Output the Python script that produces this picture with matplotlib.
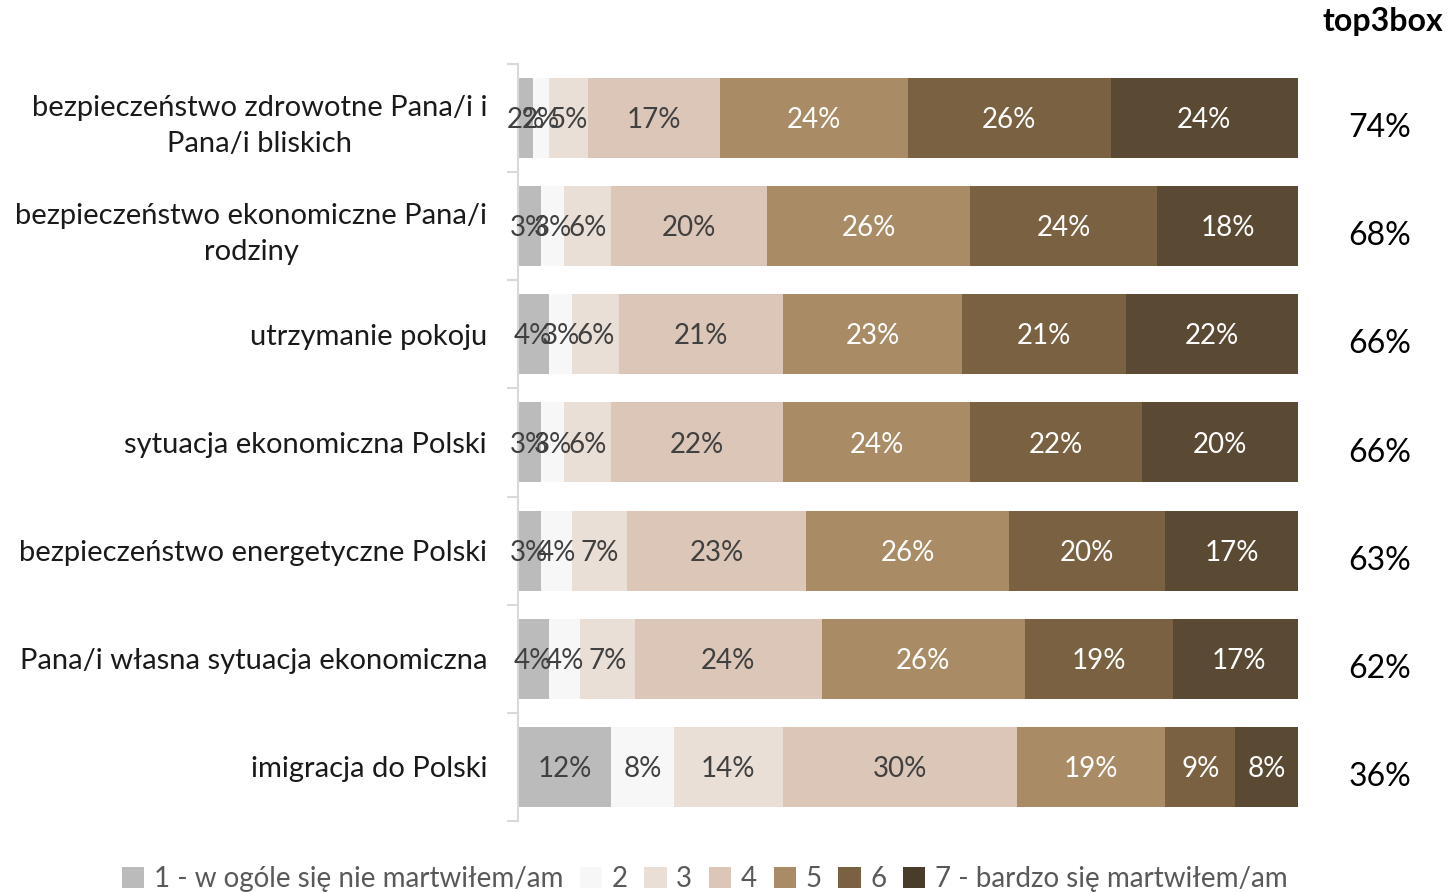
import matplotlib
matplotlib.use("Agg")
import matplotlib.pyplot as plt
from matplotlib.patches import Patch
import numpy as np

plt.rcParams['font.family'] = ['Lato', 'DejaVu Sans']

# dane
kategorie = ['bezpieczeństwo zdrowotne Pana/i i\nPana/i bliskich',
             'bezpieczeństwo ekonomiczne Pana/i\nrodziny',
             'utrzymanie pokoju',
             'sytuacja ekonomiczna Polski',
             'bezpieczeństwo energetyczne Polski',
             'Pana/i własna sytuacja ekonomiczna',
             'imigracja do Polski']
odp_1 = [2, 3, 4, 3, 3, 4, 12]
odp_2 = [2, 3, 3, 3, 4, 4, 8]
odp_3 = [5, 6, 6, 6, 7, 7, 14]
odp_4 = [17, 20, 21, 22, 23, 24, 30]
odp_5 = [24, 26, 23, 24, 26, 26, 19]
odp_6 = [26, 24, 21, 22, 20, 19, 9]
odp_7 = [24, 18, 22, 20, 17, 17, 8]
top3box = [74, 68, 66, 66, 63, 62, 36]
legenda = ['1 - w ogóle się nie martwiłem/am', '2', '3', '4', '5', '6',
           '7 - bardzo się martwiłem/am']

kolory = ['#BBBBBB', '#F7F7F7', '#EADFD7', '#DBC6B8', '#A98C66', '#7A6142', '#5A4A34']
kolory_leg = kolory[:6] + ['#4A3C2A']
kolor_tekstu = ['#404040'] * 4 + ['#FFFFFF'] * 3

serie = [odp_1, odp_2, odp_3, odp_4, odp_5, odp_6, odp_7]

fig = plt.figure(figsize=(14.5, 8.92), dpi=100)
ax = fig.add_axes([0.357, 0.0796, 0.538, 0.8487])

y = np.arange(len(kategorie))
lewo = np.zeros(len(kategorie))
for i, s in enumerate(serie):
    s = np.array(s, dtype=float)
    ax.barh(y, s, left=lewo, height=0.74, color=kolory[i], edgecolor='none')
    for j in range(len(kategorie)):
        ax.text(lewo[j] + s[j] / 2, y[j] + 0.02, f'{int(s[j])}%', ha='center', va='center',
                fontsize=20, color=kolor_tekstu[i])
    lewo += s

ax.set_xlim(0, 100)
ax.set_ylim(len(kategorie) - 0.5, -0.5)
ax.set_xticks([])
for sp in ['top', 'right', 'bottom']:
    ax.spines[sp].set_visible(False)
ax.spines['left'].set_color('#D9D9D9')
ax.spines['left'].set_linewidth(1.5)

ax.set_yticks(np.arange(-0.5, len(kategorie)), labels=[])
ax.tick_params(axis='y', which='major', length=8, color='#D9D9D9', width=1.5)
ax.set_yticks(y, labels=kategorie, minor=True)
ax.tick_params(axis='y', which='minor', length=0, pad=22, labelsize=21, labelcolor='#1A1A1A')
for t in ax.get_yticklabels(minor=True):
    t.set_multialignment('center')
    t.set_linespacing(1.5)

# top3box
for j, v in enumerate(top3box):
    fig.text(1380 / 1450, 1 - (y[j] * 108.2 + 128) / 892, f'{v}%', ha='center', va='center',
             fontsize=23, color='black')
fig.text(1443 / 1450, 1 - 21 / 892, 'top3box', ha='right', va='center', fontsize=23,
         fontweight='bold', color='black')

uchwyty = [Patch(facecolor=kolory_leg[i], edgecolor='none') for i in range(7)]
leg = fig.legend(uchwyty, legenda, loc='center', bbox_to_anchor=(0.486, 1 - 879 / 892), ncol=7,
                 frameon=False, fontsize=20, handlelength=0.8, handleheight=0.8,
                 handletextpad=0.35, columnspacing=0.6, labelcolor='#595959')

plt.savefig('out.png', dpi=100)
